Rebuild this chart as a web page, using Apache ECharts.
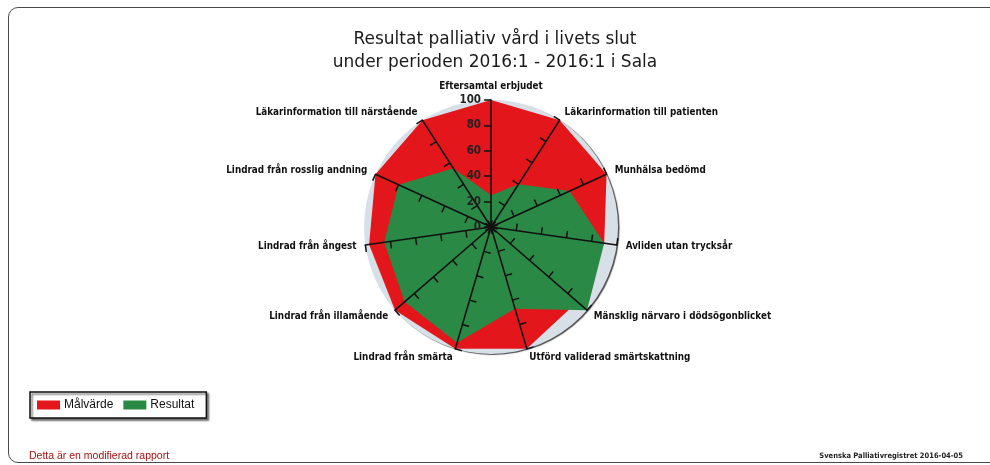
<!DOCTYPE html>
<html>
<head>
<meta charset="utf-8">
<script src="https://cdn.jsdelivr.net/npm/echarts@6/dist/echarts.min.js"></script>
<style>
  html, body { margin: 0; padding: 0; background: #ffffff; }
  .frame {
    position: absolute; left: 8px; top: 7px;
    width: 1000px; height: 454px;
    border: 1.5px solid #4a4a4a; border-radius: 10px;
  }
  #main { position: absolute; left: 0; top: 0; width: 990px; height: 465px; }
</style>
</head>
<body>
<div class="frame"></div>
<div id="main"></div>
<script>
  // indikatorer, medurs från toppen (som i rapporten)
  var indicatorNames = [
    'Eftersamtal erbjudet',
    'Läkarinformation till patienten',
    'Munhälsa bedömd',
    'Avliden utan trycksår',
    'Mänsklig närvaro i dödsögonblicket',
    'Utförd validerad smärtskattning',
    'Lindrad från smärta',
    'Lindrad från illamående',
    'Lindrad från ångest',
    'Lindrad från rosslig andning',
    'Läkarinformation till närstående'
  ];
  var malvarde = [100, 100, 100, 90, 90, 100, 100, 100, 97, 100, 100];
  var resultat = [25, 40, 68, 90, 100, 67, 95, 90, 85, 80, 55];
  var seriesNames = ['Målvärde', 'Resultat'];
  var axisMax = 100;

  // echarts ritar moturs, så vänd ordningen (toppen först)
  function ccw(arr) {
    var out = [arr[0]];
    for (var i = arr.length - 1; i > 0; i--) out.push(arr[i]);
    return out;
  }

  var names = ccw(indicatorNames);

  var bgIndicators = names.map(function (n) {
    return { name: n, max: axisMax, min: 0 };
  });
  var fgIndicators = names.map(function (n, i) {
    var ind = { name: n, max: axisMax, min: 0 };
    if (i === 0) {
      ind.axisLabel = {
        show: true,
        inside: true,
        margin: 10,
        color: '#222',
        fontSize: 11.5,
        fontWeight: 'bold',
        fontFamily: 'DejaVu Sans Condensed'
      };
    }
    return ind;
  });

  var myChart = echarts.init(document.getElementById('main'), null, { renderer: 'canvas' });

  var option = {
    backgroundColor: 'transparent',
    animation: false,
    title: [
      {
        text: 'Resultat palliativ vård i livets slut\nunder perioden 2016:1 - 2016:1 i Sala',
        left: 'center',
        top: 23,
        textStyle: {
          fontFamily: 'DejaVu Sans',
          fontSize: 17,
          fontWeight: 'normal',
          lineHeight: 23,
          color: '#1a1a1a'
        }
      },
      {
        text: 'Detta är en modifierad rapport',
        left: 24,
        top: 446,
        textStyle: {
          fontFamily: 'Liberation Sans',
          fontSize: 10.5,
          fontWeight: 'normal',
          color: '#a81010'
        }
      },
      {
        text: 'Svenska Palliativregistret 2016-04-05',
        right: 22,
        top: 447,
        textStyle: {
          fontFamily: 'DejaVu Sans Condensed',
          fontSize: 7.5,
          fontWeight: 'bold',
          color: '#222'
        }
      }
    ],
    legend: {
      data: seriesNames,
      orient: 'horizontal',
      left: 30,
      top: 392,
      padding: [7, 12, 7, 7],
      itemGap: 10,
      itemWidth: 23,
      itemHeight: 9,
      icon: 'rect',
      backgroundColor: '#ffffff',
      borderColor: '#111',
      borderWidth: 1.5,
      shadowColor: 'rgba(0,0,0,0.55)',
      shadowBlur: 2,
      shadowOffsetX: 2,
      shadowOffsetY: 2,
      textStyle: {
        fontFamily: 'Liberation Sans',
        fontSize: 12,
        color: '#111',
        padding: [0, 0, 0, -1]
      }
    },
    radar: [
      {
        // bakgrundscirkeln
        center: ['49.6%', 227],
        radius: 127,
        startAngle: 90,
        shape: 'circle',
        splitNumber: 5,
        z: 0,
        indicator: bgIndicators,
        axisName: { show: false },
        axisLine: { show: false },
        axisTick: { show: false },
        axisLabel: { show: false },
        splitLine: { show: false },
        splitArea: {
          show: true,
          areaStyle: {
            color: ['#d7dfe7'],
            shadowColor: 'rgba(20,20,20,0.75)',
            shadowBlur: 1,
            shadowOffsetX: 1.5,
            shadowOffsetY: 1
          }
        }
      },
      {
        // axlar ovanpå ytorna
        center: ['49.6%', 227],
        radius: 127,
        startAngle: 90,
        shape: 'circle',
        splitNumber: 5,
        z: 5,
        nameGap: 9,
        indicator: fgIndicators,
        axisName: {
          color: '#111',
          fontFamily: 'DejaVu Sans Condensed',
          fontWeight: 'bold',
          fontSize: 9.8
        },
        axisLine: { show: true, lineStyle: { color: '#111', width: 1.6 } },
        axisTick: { show: true, inside: true, length: 7, lineStyle: { color: '#111', width: 1.5 } },
        axisLabel: { show: false },
        splitLine: { show: false },
        splitArea: { show: false }
      }
    ],
    series: [
      {
        name: seriesNames[0],
        type: 'radar',
        radarIndex: 0,
        z: 2,
        symbol: 'none',
        lineStyle: { width: 0 },
        itemStyle: { color: '#e3161c' },
        areaStyle: { color: '#e3161c', opacity: 1 },
        data: [{ name: seriesNames[0], value: ccw(malvarde) }]
      },
      {
        name: seriesNames[1],
        type: 'radar',
        radarIndex: 0,
        z: 3,
        symbol: 'none',
        lineStyle: { width: 0 },
        itemStyle: { color: '#2a8a45' },
        areaStyle: { color: '#2a8a45', opacity: 1 },
        data: [{ name: seriesNames[1], value: ccw(resultat) }]
      }
    ]
  };

  myChart.setOption(option);
</script>
</body>
</html>
